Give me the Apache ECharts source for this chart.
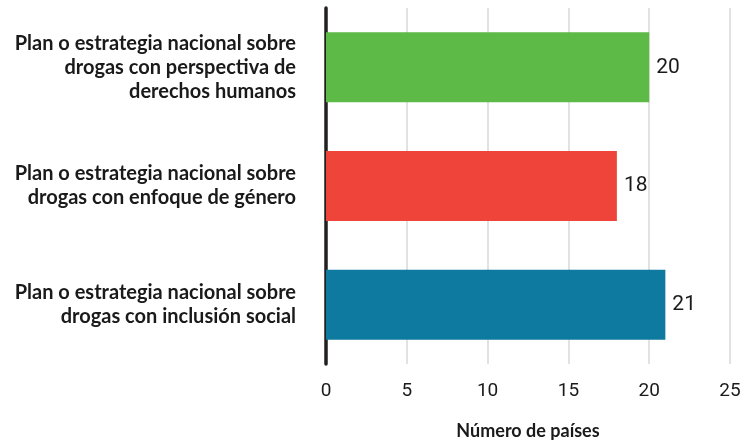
<!DOCTYPE html>
<html><head><meta charset="utf-8">
<script src="https://cdn.jsdelivr.net/npm/echarts@6/dist/echarts.min.js"></script>
<style>html,body{margin:0;padding:0;background:#fff}#c{width:744px;height:445px}</style>
</head><body><div id="c"></div>
<script>
const categories = [
  "Plan o estrategia nacional sobre\ndrogas con inclusión social",
  "Plan o estrategia nacional sobre\ndrogas con enfoque de género",
  "Plan o estrategia nacional sobre\ndrogas con perspectiva de\nderechos humanos"
];
const values = [21, 18, 20];
const colors = ["#0f7aa0", "#ef443a", "#5dba47"];
const xTicks = [0, 5, 10, 15, 20, 25];
const xTitle = "Número de países";

const chart = echarts.init(document.getElementById('c'));
chart.setOption({
  animation: false,
  grid: { left: 326, right: 14, top: 8, bottom: 77, containLabel: false },
  xAxis: {
    type: 'value', min: 0, max: 25, interval: 5,
    name: xTitle, nameLocation: 'middle', nameGap: 58,
    nameTextStyle: { fontFamily: 'Lato', fontWeight: 'bold', fontSize: 18, color: '#1a1a1a' },
    axisLine: { show: false }, axisTick: { show: false },
    axisLabel: { margin: 18, fontFamily: 'Roboto', fontSize: 19, color: '#1a1a1a',
      formatter: v => xTicks.includes(v) ? String(v) : '' },
    splitLine: { show: true, lineStyle: { color: '#d9d9d9', width: 1.5 } }
  },
  yAxis: {
    type: 'category', data: categories,
    axisLine: { show: true, lineStyle: { color: '#231f20', width: 3.5 } },
    axisTick: { show: false },
    axisLabel: { margin: 30, fontFamily: 'Lato', fontWeight: 'bold', fontSize: 20, color: '#1a1a1a', lineHeight: 24, align: 'right' }
  },
  series: [{
    type: 'bar', barWidth: 70,
    data: values.map((v, i) => ({ value: v, itemStyle: { color: colors[i] } })),
    label: { show: true, position: 'right', distance: 7, fontFamily: 'Roboto', fontSize: 21, color: '#1a1a1a' }
  }]
});
</script></body></html>
